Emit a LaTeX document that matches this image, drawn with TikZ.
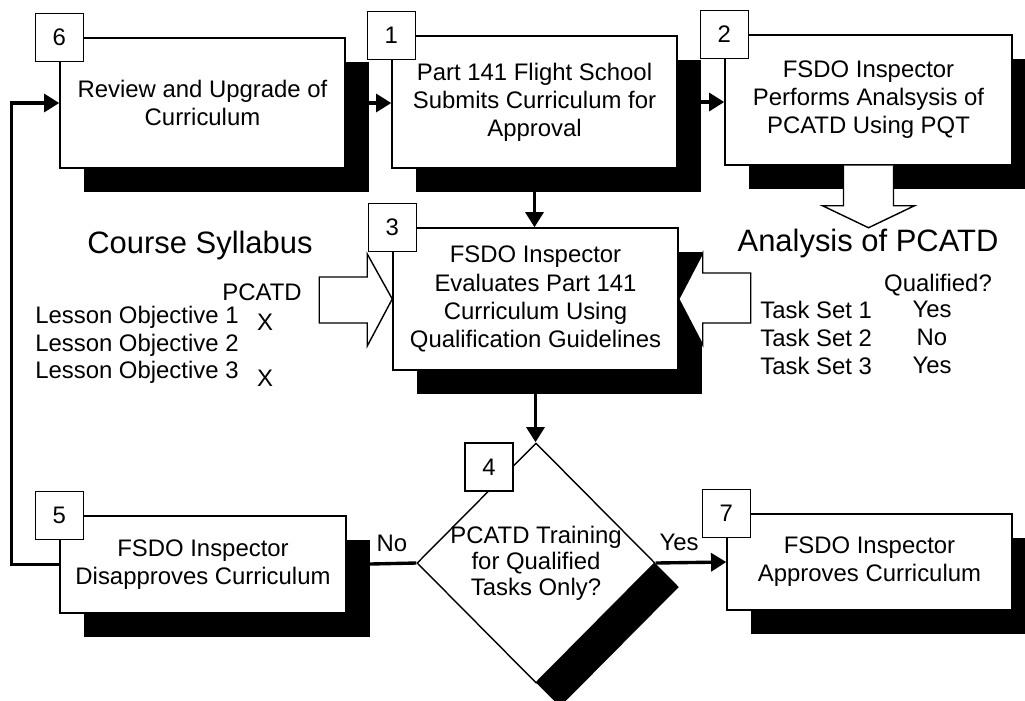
\documentclass[tikz,border=0pt]{standalone}
\usepackage{fontspec}
\setmainfont{Liberation Sans}
\usetikzlibrary{arrows.meta,shapes.geometric,shadows}

\begin{document}
\begin{tikzpicture}[x=0.025cm, y=-0.025cm,
        every node/.style={font=\fontsize{17}{20}\selectfont},
        boxshadow/.style={drop shadow={shadow xshift=0.6cm, shadow yshift=-0.6cm, fill=black, opacity=1}},
        stepbox/.style={draw, line width=1pt, fill=white, align=center, minimum width=7.125cm, boxshadow},
        numbox/.style={draw, line width=1pt, fill=white, minimum size=1.2cm, inner sep=0pt, font=\fontsize{17}{20}\selectfont},
        flow/.style={line width=2.4pt, -{Triangle[length=0.38cm, width=0.45cm]}},
        bigarrow/.style={draw, line width=1pt, fill=white, line join=miter},
        heading/.style={font=\fontsize{22}{26}\selectfont},
        txt/.style={inner sep=0pt, text height=12pt, text depth=3.5pt}]
    \useasboundingbox (0,0) rectangle (1025,700);

    \node[stepbox, minimum height=3.25cm] (b6) at (202.5,103) {Review and Upgrade of\\Curriculum};
    \node[stepbox, minimum height=3.3cm] (b1) at (534.5,102) {Part 141 Flight School\\Submits Curriculum for\\Approval};
    \node[stepbox, minimum width=7.175cm, minimum height=3.25cm] (b2) at (868.5,100) {FSDO Inspector\\Performs Analsysis of\\PCATD Using PQT};
    \node[stepbox, minimum height=3.55cm] (b3) at (535.5,299) {FSDO Inspector\\Evaluates Part 141\\Curriculum Using\\Qualification Guidelines};
    \node[stepbox, minimum width=7.15cm, minimum height=2.425cm] (b5) at (203,564.5) {FSDO Inspector\\Disapproves Curriculum};
    \node[stepbox, minimum height=2.4cm] (b7) at (869.5,562) {FSDO Inspector\\Approves Curriculum};
    \node[diamond, draw, line width=1pt, fill=white, minimum width=5.95cm, minimum height=6cm, inner sep=0pt, boxshadow] (d4) at (536,563) {};
    \node[align=center, font=\fontsize{17}{18.5}\selectfont] (q4) at (d4.center) {PCATD Training\\for Qualified\\Tasks Only?};

    \draw[flow] (b6.east) -- (b1.west |- b6.east);
    \draw[flow] (b1.east) -- (b2.west |- b1.east);
    \draw[flow] (b1.south) -- (b1.south |- b3.north);
    \draw[flow] (b3.south) -- (b3.south |- d4.north);
    \draw[line width=2.4pt] (d4.west) -- node[pos=0.35, above=4pt] {No} (b5.east);
    \draw[flow] (d4.east) -- node[pos=0.33, above=4pt] {Yes} (b7.west);
    \draw[flow] (b5.west) -- ++(-48,0) |- (b6.west);

    \draw[bigarrow] (b3.west) -- ++(-25,-45) -- ++(0,23) -- ++(-48,0) -- ++(0,46) -- ++(48,0) -- ++(0,23) -- cycle;
    \draw[bigarrow] (b3.east) -- ++(24,-46) -- ++(0,20) -- ++(48,0) -- ++(0,50) -- ++(-48,0) -- ++(0,22) -- cycle;
    \draw[bigarrow] ([xshift=-0.625cm]b2.south) -- ++(0,40) -- ++(-21,0) -- ++(46,22) -- ++(46,-22) -- ++(-21,0) -- ++(0,-40);

    \foreach \b/\n in {b6/6,b1/1,b2/2,b3/3,b5/5,b7/7}
        \node[numbox] (n\n) at (\b.north west) {\n};
    \node[numbox] (n4) at (489,467) {4};

    \node[heading] (cs) at (200,245) {Course Syllabus};
    \node (pc) at (262,292) {PCATD};
    \foreach \i/\y in {1/318,2/346,3/373}
        \node[txt, anchor=west] (lo\i) at (35,\y) {Lesson Objective \i};
    \node (x1) at (265,322) {X};
    \node (x3) at (265,378) {X};

    \node[heading] (an) at (868,243) {Analysis of PCATD};
    \node (qf) at (938,285) {Qualified?};
    \foreach \i/\y/\a in {1/313/Yes,2/341/No,3/369/Yes} {
        \node[txt, anchor=west] (ts\i) at (760,\y) {Task Set \i};
        \node[txt] (qa\i) at (932,\y-1) {\a};
    }
\end{tikzpicture}
\end{document}
